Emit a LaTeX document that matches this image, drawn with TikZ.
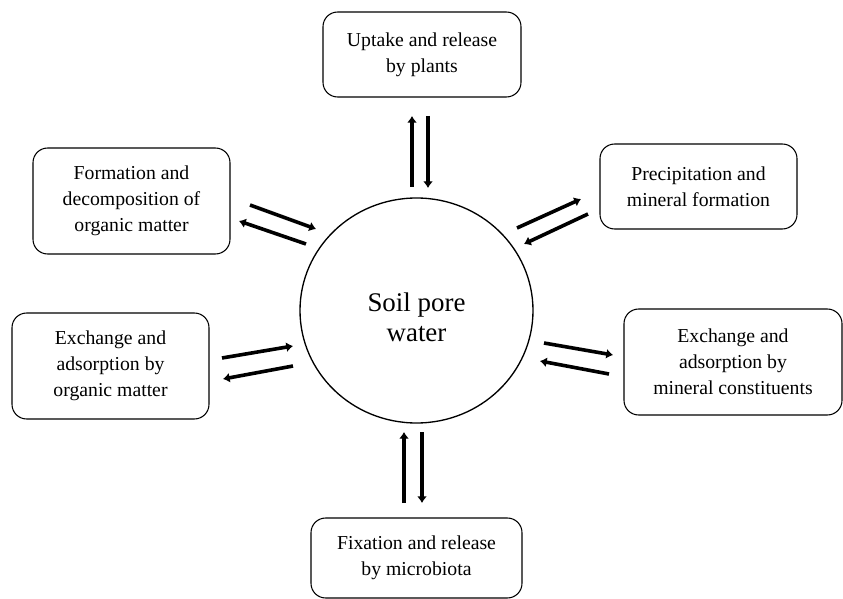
\documentclass[tikz,border=0pt]{standalone}
\usepackage{fontspec}
\setmainfont{Liberation Serif}
\usetikzlibrary{shapes.geometric,arrows.meta}

\tikzset{
  process/.style={draw, rounded corners=11pt, line width=0.8pt, align=center,
    font=\fontsize{14.8}{19.5}\selectfont, minimum width=147.75pt,
    minimum height=79.5pt, inner sep=0pt, outer sep=0pt},
  flux/.style={line width=2.7pt, -{Latex[length=5pt,width=7.5pt]}},
}

\begin{document}
\begin{tikzpicture}[x=0.75pt,y=-0.75pt]
\useasboundingbox (0,0) rectangle (843,599);
% pore water in the middle
\node[draw, ellipse, line width=1pt, minimum width=174.75pt, minimum height=168.75pt] (soil) at (416.5,310.5) {};
\node[align=center, font=\fontsize{20.2}{22.5}\selectfont] (soiltext) at (416.5,317) {Soil pore\\water};
% processes round it
\node[process, minimum width=148.5pt, minimum height=63.75pt] (uptake) at (422,54.5) {Uptake and release\\by plants};
\node[process] (formorg) at (131.5,201) {Formation and\\decomposition of\\organic matter};
\node[process, minimum height=63.75pt] (precip) at (698.5,186.5) {Precipitation and\\mineral formation};
\node[process] (exorg) at (110.5,366) {Exchange and\\adsorption by\\organic matter};
\node[process, minimum width=163.5pt] (exmin) at (733,362) {Exchange and\\adsorption by\\mineral constituents};
\node[process, minimum width=158.25pt, minimum height=60pt] (fix) at (416.5,558) {Fixation and release\\by microbiota};
% arrow ends
\coordinate (up1) at (412,187); \coordinate (up2) at (412,116);
\coordinate (up3) at (428,116); \coordinate (up4) at (428,188);
\coordinate (fo1) at (250,205); \coordinate (fo2) at (316,229);
\coordinate (fo3) at (306,244); \coordinate (fo4) at (239,221);
\coordinate (pr1) at (517,228); \coordinate (pr2) at (581,199);
\coordinate (pr3) at (588,214); \coordinate (pr4) at (524,244);
\coordinate (eo1) at (222,358); \coordinate (eo2) at (293,346);
\coordinate (eo3) at (293,366); \coordinate (eo4) at (223,379);
\coordinate (em1) at (544,343); \coordinate (em2) at (613,355);
\coordinate (em3) at (609,374); \coordinate (em4) at (540,361);
\coordinate (fx1) at (404,503); \coordinate (fx2) at (404,432);
\coordinate (fx3) at (422,432); \coordinate (fx4) at (422,503);
% exchanges
\draw[flux] (up1) -- (up2);
\draw[flux] (up3) -- (up4);
\draw[flux] (fo1) -- (fo2);
\draw[flux] (fo3) -- (fo4);
\draw[flux] (pr1) -- (pr2);
\draw[flux] (pr3) -- (pr4);
\draw[flux] (eo1) -- (eo2);
\draw[flux] (eo3) -- (eo4);
\draw[flux] (em1) -- (em2);
\draw[flux] (em3) -- (em4);
\draw[flux] (fx1) -- (fx2);
\draw[flux] (fx3) -- (fx4);
\end{tikzpicture}
\end{document}
